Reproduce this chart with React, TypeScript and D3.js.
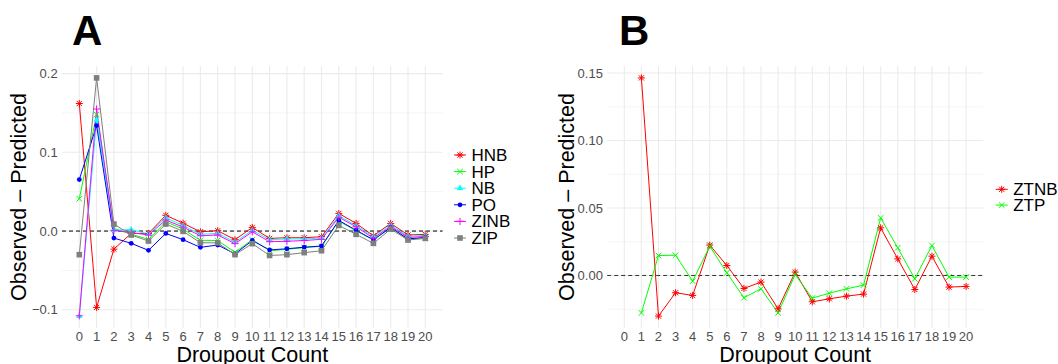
import React from 'react';
import * as d3 from 'd3';

// droupout counts
const countsA = [0, 1, 2, 3, 4, 5, 6, 7, 8, 9, 10, 11, 12, 13, 14, 15, 16, 17, 18, 19, 20];
const countsB = [1, 2, 3, 4, 5, 6, 7, 8, 9, 10, 11, 12, 13, 14, 15, 16, 17, 18, 19, 20];
const xTicks = [0, 1, 2, 3, 4, 5, 6, 7, 8, 9, 10, 11, 12, 13, 14, 15, 16, 17, 18, 19, 20];

// panel A: observed - predicted
const hnb = [0.162, -0.097, -0.023, -0.003, -0.003, 0.020, 0.010, -0.001, 0.0004, -0.011, 0.0046, -0.0093, -0.0085, -0.0085, -0.0072, 0.0224, 0.0097, -0.006, 0.0097, -0.005, -0.0042];
const hp = [0.041, 0.148, 0.0034, -0.004, -0.0105, 0.0118, 0.0025, -0.0118, -0.012, -0.027, -0.011, -0.025, -0.0232, -0.021, -0.0194, 0.0127, 0.0004, -0.0114, 0.0042, -0.0105, -0.0085];
const nb = [-0.108, 0.141, 0.001, 0.002, -0.004, 0.0169, 0.007, -0.004, -0.003, -0.014, 0.001, -0.011, -0.010, -0.010, -0.009, 0.0195, 0.007, -0.007, 0.0075, -0.0065, -0.0055];
const po = [0.0654, 0.134, -0.0089, -0.0156, -0.0245, -0.003, -0.011, -0.0207, -0.0177, -0.029, -0.012, -0.024, -0.0225, -0.0205, -0.019, 0.0135, 0.001, -0.011, 0.0045, -0.010, -0.008];
const zinb = [-0.1076, 0.155, 0.001, -0.002, -0.005, 0.014, 0.005, -0.006, -0.005, -0.016, -0.001, -0.0135, -0.013, -0.012, -0.0105, 0.0175, 0.0055, -0.009, 0.006, -0.008, -0.007];
const zip = [-0.030, 0.1945, 0.0089, -0.005, -0.0127, 0.0089, -0.0004, -0.0148, -0.015, -0.030, -0.016, -0.031, -0.030, -0.0274, -0.025, 0.0072, -0.0042, -0.0156, 0.0025, -0.0114, -0.0093];

// panel B
const ztnb = [0.1464, -0.0301, -0.0128, -0.0148, 0.0225, 0.0074, -0.0096, -0.0049, -0.0247, 0.0025, -0.0195, -0.0173, -0.0153, -0.0138, 0.0353, 0.0123, -0.0104, 0.0143, -0.0086, -0.0081];
const ztp = [-0.0277, 0.0148, 0.0150, -0.0042, 0.0217, 0.002, -0.0165, -0.0099, -0.0277, 0.0007, -0.0168, -0.0131, -0.0099, -0.0072, 0.0427, 0.0205, -0.0025, 0.0222, -0.0012, -0.0012];

const yMajorA = [-0.1, 0, 0.1, 0.2];
const yLabelsA = ['\u22120.1', '0.0', '0.1', '0.2'];
const yMinorA = [-0.05, 0.05, 0.15];
const yMajorB = [0, 0.05, 0.1, 0.15];
const yLabelsB = ['0.00', '0.05', '0.10', '0.15'];
const yMinorB = [-0.025, 0.025, 0.075, 0.125];

const seriesA = [
  { name: 'HNB', values: hnb, color: '#FF0000', shape: 'asterisk' },
  { name: 'HP', values: hp, color: '#00FF00', shape: 'cross' },
  { name: 'NB', values: nb, color: '#00FFFF', shape: 'triangle' },
  { name: 'PO', values: po, color: '#0000FF', shape: 'circle' },
  { name: 'ZINB', values: zinb, color: '#FF00FF', shape: 'plus' },
  { name: 'ZIP', values: zip, color: '#7F7F7F', shape: 'square' },
];
const seriesB = [
  { name: 'ZTNB', values: ztnb, color: '#FF0000', shape: 'asterisk' },
  { name: 'ZTP', values: ztp, color: '#00FF00', shape: 'cross' },
];

const FONT = '"Liberation Sans", Arial, Helvetica, sans-serif';

function Marker({ shape, x, y, color }: { shape: string; x: number; y: number; color: string }) {
  const sw = 1;
  if (shape === 'circle') return <circle cx={x} cy={y} r={2.4} fill={color} />;
  if (shape === 'square') return <rect x={x - 2.8} y={y - 2.8} width={5.6} height={5.6} fill={color} />;
  if (shape === 'triangle') {
    const r = 3.6;
    const p = [[x, y - r], [x + r * 0.866, y + r * 0.5], [x - r * 0.866, y + r * 0.5]];
    return <polygon points={p.map(q => q.join(',')).join(' ')} fill={color} />;
  }
  if (shape === 'plus') {
    const h = 3.6;
    return (
      <g stroke={color} strokeWidth={sw}>
        <line x1={x - h} y1={y} x2={x + h} y2={y} />
        <line x1={x} y1={y - h} x2={x} y2={y + h} />
      </g>
    );
  }
  if (shape === 'cross') {
    const h = 2.8;
    return (
      <g stroke={color} strokeWidth={sw}>
        <line x1={x - h} y1={y - h} x2={x + h} y2={y + h} />
        <line x1={x - h} y1={y + h} x2={x + h} y2={y - h} />
      </g>
    );
  }
  // asterisk = plus + cross
  const h = 3.5;
  const d = 2.6;
  return (
    <g stroke={color} strokeWidth={sw}>
      <line x1={x - h} y1={y} x2={x + h} y2={y} />
      <line x1={x} y1={y - h} x2={x} y2={y + h} />
      <line x1={x - d} y1={y - d} x2={x + d} y2={y + d} />
      <line x1={x - d} y1={y + d} x2={x + d} y2={y - d} />
    </g>
  );
}

function Panel(props: {
  left: number; right: number; top: number; bottom: number;
  counts: number[]; series: any[]; yMajor: number[]; yLabels: string[]; yMinor: number[];
  title: string; titleX: number; yTitleX: number; zeroColor: string;
  legendX: number; legendY: number; legendStep: number;
}) {
  const { left, right, top, bottom, counts, series, yMajor, yLabels, yMinor } = props;
  const all = series.flatMap(s => s.values);
  const [lo, hi] = d3.extent(all) as [number, number];
  const pad = (hi - lo) * 0.05;
  const x = d3.scaleLinear().domain([-1, 21]).range([left, right]);
  const y = d3.scaleLinear().domain([lo - pad, hi + pad]).range([bottom, top]);
  const line = d3.line<number>().x((_, i) => x(counts[i])).y(v => y(v));
  const grid = '#EBEBEB';

  return (
    <g>
      {yMinor.map(v => (
        <line key={'mn' + v} x1={left} x2={right} y1={y(v)} y2={y(v)} stroke={grid} strokeWidth={0.55} />
      ))}
      {yMajor.map(v => (
        <line key={'mj' + v} x1={left} x2={right} y1={y(v)} y2={y(v)} stroke={grid} strokeWidth={1.1} />
      ))}
      {xTicks.map(v => (
        <line key={'vx' + v} x1={x(v)} x2={x(v)} y1={top} y2={bottom} stroke={grid} strokeWidth={1.1} />
      ))}
      <line x1={left} x2={right} y1={y(0)} y2={y(0)} stroke={props.zeroColor} strokeWidth={1} strokeDasharray="4,3" />
      {series.map(s => (
        <path key={'l' + s.name} d={line(s.values) || ''} fill="none" stroke={s.color} strokeWidth={1} />
      ))}
      {series.map(s => (
        <g key={'p' + s.name}>
          {s.values.map((v: number, i: number) => (
            <Marker key={i} shape={s.shape} x={x(counts[i])} y={y(v)} color={s.color} />
          ))}
        </g>
      ))}
      {/* tick labels */}
      {yMajor.map((v, i) => (
        <text key={'yt' + v} x={left - 4.3} y={y(v)} dy="0.35em" textAnchor="end" fontSize={13} fill="#4D4D4D" fontFamily={FONT}>
          {yLabels[i]}
        </text>
      ))}
      {xTicks.map(v => (
        <text key={'xt' + v} x={x(v)} y={341} textAnchor="middle" fontSize={13} fill="#4D4D4D" fontFamily={FONT}>
          {v}
        </text>
      ))}
      <text x={(left + right) / 2} y={362} textAnchor="middle" fontSize={21.5} fill="#000" fontFamily={FONT}>
        Droupout Count
      </text>
      <text transform={`translate(${props.yTitleX},${(top + bottom) / 2}) rotate(-90)`} textAnchor="middle" fontSize={21.5} fill="#000" fontFamily={FONT}>
        Observed – Predicted
      </text>
      <text x={props.titleX} y={45} fontSize={42} fontWeight="bold" fill="#000" fontFamily={FONT}>
        {props.title}
      </text>
      {/* legend */}
      {series.map((s, i) => {
        const ly = props.legendY + i * props.legendStep;
        const kx = props.legendX;
        return (
          <g key={'lg' + s.name}>
            <line x1={kx - 6} x2={kx + 6} y1={ly} y2={ly} stroke={s.color} strokeWidth={1} />
            <Marker shape={s.shape} x={kx} y={ly} color={s.color} />
            <text x={kx + 11.5} y={ly} dy="0.35em" fontSize={17} fill="#000" fontFamily={FONT}>
              {s.name}
            </text>
          </g>
        );
      })}
    </g>
  );
}

export default function App() {
  return (
    <svg width={1058} height={364} style={{ position: 'absolute', left: 0, top: 0, background: '#fff' }}>
      <rect width={1058} height={364} fill="#fff" />
      <Panel
        left={62} right={442.6} top={66} bottom={328}
        counts={countsA} series={seriesA}
        yMajor={yMajorA} yLabels={yLabelsA} yMinor={yMinorA}
        title="A" titleX={72} yTitleX={26} zeroColor="#000"
        legendX={460} legendY={155} legendStep={16.6}
      />
      <Panel
        left={607.2} right={983.2} top={66} bottom={328}
        counts={countsB} series={seriesB}
        yMajor={yMajorB} yLabels={yLabelsB} yMinor={yMinorB}
        title="B" titleX={619} yTitleX={574} zeroColor="#333"
        legendX={1001.7} legendY={189.3} legendStep={15.8}
      />
    </svg>
  );
}
